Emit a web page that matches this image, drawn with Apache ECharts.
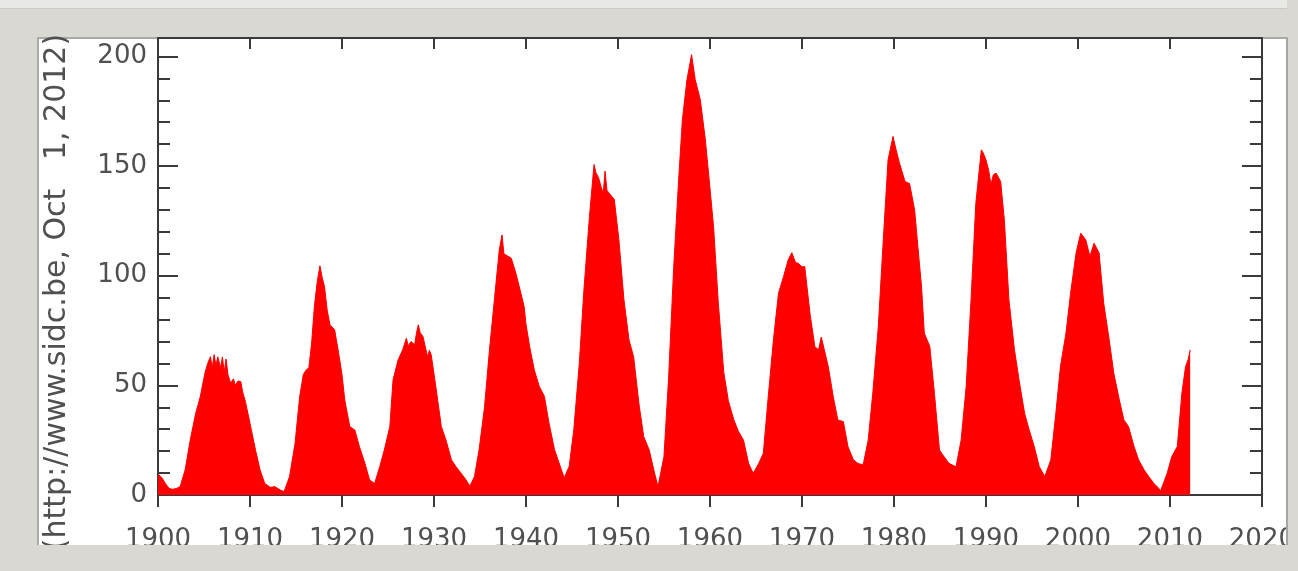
<!DOCTYPE html>
<html>
<head>
<meta charset="utf-8">
<script src="https://cdn.jsdelivr.net/npm/echarts@6/dist/echarts.min.js"></script>
<style>
  html, body { margin: 0; padding: 0; background: #d9d8d2; }
  #chart { width: 1298px; height: 571px; }
</style>
</head>
<body>
<div id="chart"></div>
<script>
// Smoothed sunspot number
var years = [
  1900.0, 1900.4, 1900.8, 1901.2, 1901.6, 1902.0, 1902.4, 1902.95, 1903.5, 1904.1,
  1904.6, 1905.1, 1905.4, 1905.7, 1905.9, 1906.1, 1906.3, 1906.5, 1906.8, 1907.0,
  1907.2, 1907.4, 1907.6, 1907.9, 1908.2, 1908.4, 1908.7, 1909.0, 1909.2, 1909.5,
  1910.0, 1910.6, 1911.1, 1911.6, 1912.2, 1912.7, 1913.3, 1913.7, 1914.3, 1914.9,
  1915.4, 1915.8, 1916.1, 1916.4, 1916.7, 1917.0, 1917.3, 1917.6, 1917.85, 1918.1,
  1918.4, 1918.7, 1919.2, 1919.7, 1920.0, 1920.3, 1920.85, 1921.4, 1921.9, 1922.5,
  1923.0, 1923.55, 1924.1, 1924.6, 1925.2, 1925.55, 1926.1, 1926.6, 1927.0, 1927.2,
  1927.5, 1927.9, 1928.1, 1928.3, 1928.5, 1928.8, 1929.3, 1929.5, 1929.7, 1930.2,
  1930.8, 1931.3, 1931.9, 1932.4, 1932.95, 1933.5, 1933.9, 1934.4, 1934.9, 1935.5,
  1936.0, 1936.6, 1937.1, 1937.4, 1937.6, 1937.8, 1938.4, 1938.9, 1939.45, 1939.8,
  1940.0, 1940.4, 1940.9, 1941.45, 1942.0, 1942.5, 1943.1, 1943.6, 1944.15, 1944.7,
  1945.2, 1945.8, 1946.3, 1946.9, 1947.4, 1947.6, 1947.9, 1948.2, 1948.4, 1948.6,
  1948.8, 1949.0, 1949.6, 1950.1, 1950.65, 1951.2, 1951.7, 1952.3, 1952.8, 1953.4,
  1953.9, 1954.35, 1955.0, 1955.5, 1956.06, 1956.6, 1957.0, 1957.5, 1958.0, 1958.2,
  1958.4, 1958.95, 1959.5, 1960.0, 1960.4, 1960.9, 1961.5, 1962.0, 1962.6, 1963.1,
  1963.65, 1964.2, 1964.7, 1965.3, 1965.8, 1966.36, 1966.9, 1967.45, 1968.0, 1968.5,
  1968.9, 1969.3, 1969.6, 1970.0, 1970.3, 1970.87, 1971.4, 1971.8, 1972.1, 1972.3,
  1972.86, 1973.4, 1973.9, 1974.5, 1975.0, 1975.6, 1976.1, 1976.65, 1977.2, 1977.7,
  1978.3, 1978.8, 1979.36, 1979.9, 1980.2, 1980.6, 1981.2, 1981.7, 1982.25, 1982.6,
  1983.0, 1983.3, 1983.9, 1984.4, 1984.95, 1985.3, 1986.0, 1986.75, 1987.3, 1987.85,
  1988.4, 1988.9, 1989.5, 1989.7, 1990.0, 1990.3, 1990.55, 1990.8, 1991.1, 1991.6,
  1992.0, 1992.5, 1993.1, 1993.6, 1994.2, 1994.7, 1995.25, 1995.8, 1996.4, 1997.05,
  1997.6, 1998.1, 1998.7, 1999.2, 1999.8, 2000.3, 2000.85, 2001.3, 2001.75, 2002.3,
  2002.8, 2003.4, 2003.9, 2004.5, 2005.0, 2005.5, 2006.1, 2006.6, 2007.2, 2007.7,
  2008.25, 2008.8, 2009.0, 2009.7, 2010.2, 2010.8, 2011.3, 2011.7, 2012.0, 2012.2
];
var sunspotNumbers = [
  9.5, 8, 5.3, 3, 2.6, 3, 3.8, 11.4, 25, 37.3,
  44.9, 55.6, 60, 63.1, 58, 64, 59, 63, 58, 63,
  56, 62, 55, 51, 53, 50, 52, 51.7, 47, 42.6,
  32.7, 20.5, 11.4, 5.3, 3.5, 3.8, 2.3, 1.5, 8.4, 23.6,
  44.9, 55, 57, 58, 69.3, 86, 97, 104.5, 99, 95,
  84, 77.6, 75.3, 63.1, 55, 43.4, 31.2, 29.6, 22, 14.4,
  6.8, 5.3, 12.9, 20.5, 31.2, 52.5, 61.6, 66.2, 71.5, 68,
  70, 68.5, 74, 77.6, 74, 72.3, 63.1, 66, 63.9, 49.4,
  31.2, 25.1, 16, 12.9, 9.9, 6.8, 4, 8.4, 20.5, 40.3,
  64.7, 90.5, 111.8, 118.6, 110, 110.4, 108, 101.2, 92, 86,
  78, 67.7, 57.1, 49.5, 45, 32.9, 20.7, 14.6, 7.8, 13.1,
  29.8, 60.1, 93.6, 127, 150.7, 147, 144.6, 140, 137.8, 147.7,
  139, 137.8, 134.8, 116.4, 89, 70.7, 63.1, 41, 26.6, 20.5,
  11.4, 3.8, 17.5, 53, 104, 144, 171, 189.4, 200.8, 201,
  189.4, 180.2, 162, 140, 122, 88, 56, 43, 34.2, 29,
  25, 14.4, 9.9, 14.4, 19, 46, 70.7, 92, 99.6, 107.2,
  110.5, 106, 105.7, 104, 104.2, 82.9, 67.7, 66.2, 72, 72.3,
  58.6, 44.9, 34.2, 33.5, 22.1, 16, 14.4, 13.7, 25, 46.4,
  76.8, 113.3, 152.9, 163.5, 158, 151.4, 143, 142, 130, 113.3,
  95, 73.8, 67.7, 46.4, 20.5, 18.3, 14.4, 12.9, 25, 49.4,
  90.5, 133, 157.4, 156, 152.9, 148, 141.5, 146, 146.8, 143,
  125.5, 89, 66.2, 52.5, 37.3, 29.7, 22.1, 12.9, 8.4, 16,
  37.3, 58.6, 73.8, 92, 110.4, 119.4, 116.4, 108.8, 114.8, 110.4,
  87.5, 70.7, 55.5, 43.4, 34.2, 31.2, 22.1, 16, 11.4, 8.4,
  5.3, 3, 2, 9.9, 17.5, 22.1, 46.4, 58.6, 62, 66.2
];
var xRange = [1900, 2020];
var xStep = 10;
var yRange = [0, 208.4];
var yStep = 50;
var sideNote = '(http://www.sidc.be, Oct   1, 2012)';

var seriesData = years.map(function (y, i) { return [y, sunspotNumbers[i]]; });

var chart = echarts.init(document.getElementById('chart'), null, { renderer: 'canvas' });
var axisColor = '#3a3a3a';
var textColor = '#505050';
var fontFam = "'DejaVu Sans', 'Liberation Sans', sans-serif";
var labelFont = { color: textColor, fontSize: 26, fontFamily: fontFam };
var bg = '#d9d8d2';
var plain = function (v) { return String(Math.round(v)); };

chart.setOption({
  backgroundColor: bg,
  animation: false,
  grid: { left: 158, right: 34, top: 38, bottom: 76, containLabel: false },
  xAxis: [{
    type: 'value', position: 'bottom', min: xRange[0], max: xRange[1], interval: xStep,
    axisLine: { show: true, onZero: false, lineStyle: { color: axisColor, width: 2 } },
    axisTick: { show: true, inside: false, length: 12, lineStyle: { color: axisColor, width: 2 } },
    axisLabel: Object.assign({ margin: 32, formatter: plain }, labelFont),
    splitLine: { show: false }
  }, {
    type: 'value', position: 'top', min: xRange[0], max: xRange[1], interval: xStep,
    axisLine: { show: true, onZero: false, lineStyle: { color: axisColor, width: 2 } },
    axisTick: { show: true, inside: true, length: 11, lineStyle: { color: axisColor, width: 2 } },
    axisLabel: { show: false },
    splitLine: { show: false }
  }],
  yAxis: [{
    type: 'value', position: 'left', min: yRange[0], max: yRange[1], interval: yStep,
    axisLine: { show: true, onZero: false, lineStyle: { color: axisColor, width: 2 } },
    axisTick: { show: true, inside: true, length: 20, lineStyle: { color: axisColor, width: 2 } },
    minorTick: { show: true, splitNumber: 5, length: 12, lineStyle: { color: axisColor, width: 2 } },
    axisLabel: Object.assign({ margin: 11, showMaxLabel: false, formatter: plain }, labelFont),
    splitLine: { show: false }, minorSplitLine: { show: false }
  }, {
    type: 'value', position: 'right', min: yRange[0], max: yRange[1], interval: yStep,
    axisLine: { show: true, onZero: false, lineStyle: { color: axisColor, width: 2 } },
    axisTick: { show: true, inside: true, length: 20, lineStyle: { color: axisColor, width: 2 } },
    minorTick: { show: true, splitNumber: 5, length: 12, lineStyle: { color: axisColor, width: 2 } },
    axisLabel: { show: false },
    splitLine: { show: false }, minorSplitLine: { show: false }
  }],
  series: [{
    type: 'line',
    xAxisIndex: 0, yAxisIndex: 0,
    data: seriesData,
    showSymbol: false,
    symbol: 'none',
    lineStyle: { color: '#ff0000', width: 1 },
    areaStyle: { color: '#ff0000', opacity: 1, origin: 'start' },
    z: 1
  }],
  graphic: [
    { type: 'rect', z: -20, shape: { x: 0, y: 0, width: 1298, height: 8 }, style: { fill: '#e8e8e5' } },
    { type: 'rect', z: -20, shape: { x: 0, y: 8, width: 1298, height: 1 }, style: { fill: '#c9c8c2' } },
    { type: 'rect', z: -15, shape: { x: 37, y: 37, width: 1250, height: 508 }, style: { fill: '#ffffff' } },
    { type: 'rect', z: -14, shape: { x: 37, y: 37, width: 1250, height: 2 }, style: { fill: '#a9a9a6' } },
    { type: 'rect', z: -14, shape: { x: 37, y: 37, width: 2, height: 508 }, style: { fill: '#a9a9a6' } },
    {
      type: 'text', z: 50, x: 57, y: 292, rotation: Math.PI / 2,
      style: {
        text: sideNote, fill: textColor, fontSize: 30,
        fontFamily: fontFam,
        align: 'center', verticalAlign: 'middle'
      }
    },
    { type: 'rect', z: 100, shape: { x: 0, y: 545, width: 1298, height: 26 }, style: { fill: bg } },
    { type: 'rect', z: 100, shape: { x: 1287, y: 0, width: 11, height: 571 }, style: { fill: bg } },
    { type: 'rect', z: 101, shape: { x: 1286, y: 37, width: 2, height: 508 }, style: { fill: '#a5a5a2' } }
  ]
});
</script>
</body>
</html>
